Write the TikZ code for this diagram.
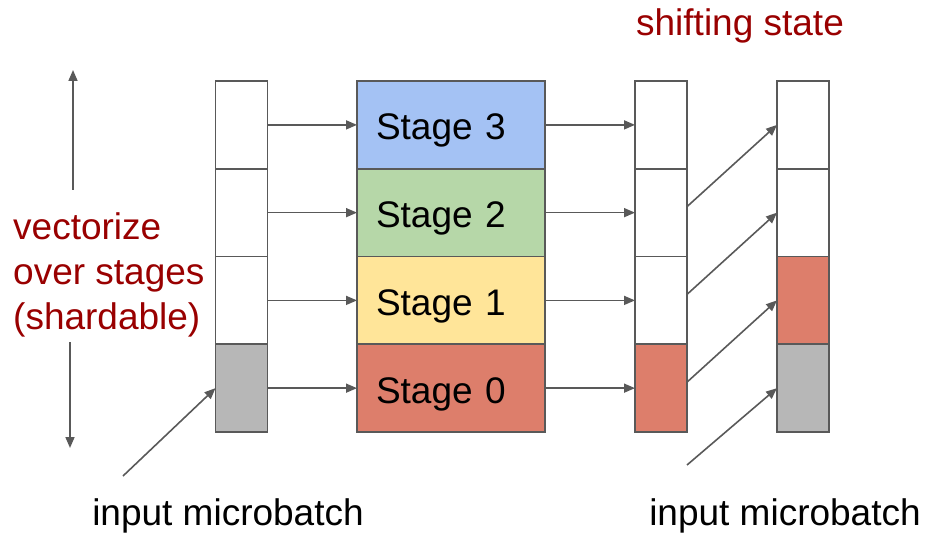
\documentclass[tikz,border=0pt]{standalone}
\usepackage{fontspec}
\setmainfont{Liberation Sans}
\usetikzlibrary{arrows.meta,positioning}
\definecolor{linegray}{HTML}{595959}
\definecolor{darkred}{HTML}{990000}
\definecolor{stageblue}{HTML}{A4C2F4}
\definecolor{stagegreen}{HTML}{B6D7A8}
\definecolor{stageyellow}{HTML}{FFE599}
\definecolor{stagered}{HTML}{DD7E6B}
\definecolor{inputgray}{HTML}{B7B7B7}

\begin{document}
\begin{tikzpicture}[x=1pt, y=-1pt, >={Triangle[length=11pt, width=9pt]},
	every node/.style={font=\fontsize{37}{45}\selectfont},
	cell/.style={draw=linegray, line width=1.7pt, fill=white, minimum width=52pt, minimum height=87.75pt, inner sep=0pt, outer sep=0pt},
	stage/.style={cell, text width=150pt, inner xsep=19pt, align=left, text height=38pt, text depth=8pt},
	link/.style={->, draw=linegray, line width=1.6pt}]
	\useasboundingbox (0,0) rectangle (925,534);
	% input buffer
	\node[cell] (a3) at (241.5,124.9) {};
	\node[cell, below=0pt of a3] (a2) {};
	\node[cell, below=0pt of a2] (a1) {};
	\node[cell, fill=inputgray, below=0pt of a1] (a0) {};
	% stages
	\node[stage, fill=stageblue] (s3) at (451,124.9) {Stage 3};
	\node[stage, fill=stagegreen, below=0pt of s3] (s2) {Stage 2};
	\node[stage, fill=stageyellow, below=0pt of s2] (s1) {Stage 1};
	\node[stage, fill=stagered, below=0pt of s1] (s0) {Stage 0};
	% output state
	\node[cell] (b3) at (661,124.9) {};
	\node[cell, below=0pt of b3] (b2) {};
	\node[cell, below=0pt of b2] (b1) {};
	\node[cell, fill=stagered, below=0pt of b1] (b0) {};
	% shifted state
	\node[cell] (c3) at (803,124.9) {};
	\node[cell, below=0pt of c3] (c2) {};
	\node[cell, fill=stagered, below=0pt of c2] (c1) {};
	\node[cell, fill=inputgray, below=0pt of c1] (c0) {};
	\foreach \i in {0,1,2,3} {
		\draw[link] (a\i.east) -- (s\i.west);
		\draw[link] (s\i.east) -- (b\i.west);
	}
	\foreach \i/\j in {0/1,1/2,2/3} {
		\draw[link] ([yshift=6pt]b\i.east) -- (c\j.west);
	}
	% inputs
	\coordinate (inL) at (123,476);
	\coordinate (inR) at (687,465);
	\draw[link] (inL) -- (a0.west);
	\draw[link] (inR) -- (c0.west);
	\node (lblL) at (228,516) {input microbatch};
	\node (lblR) at (785,516) {input microbatch};
	% vectorize axis
	\node[darkred, align=left, anchor=west, inner sep=0pt] (vec) at (13,275) {vectorize\\over stages\\(shardable)};
	\coordinate (upS) at (73,190);
	\coordinate (upE) at (73,70);
	\coordinate (dnS) at (70,342);
	\coordinate (dnE) at (70,448);
	\draw[link] (upS) -- (upE);
	\draw[link] (dnS) -- (dnE);
	\node[darkred] (shift) at (740,26) {shifting state};
\end{tikzpicture}
\end{document}
